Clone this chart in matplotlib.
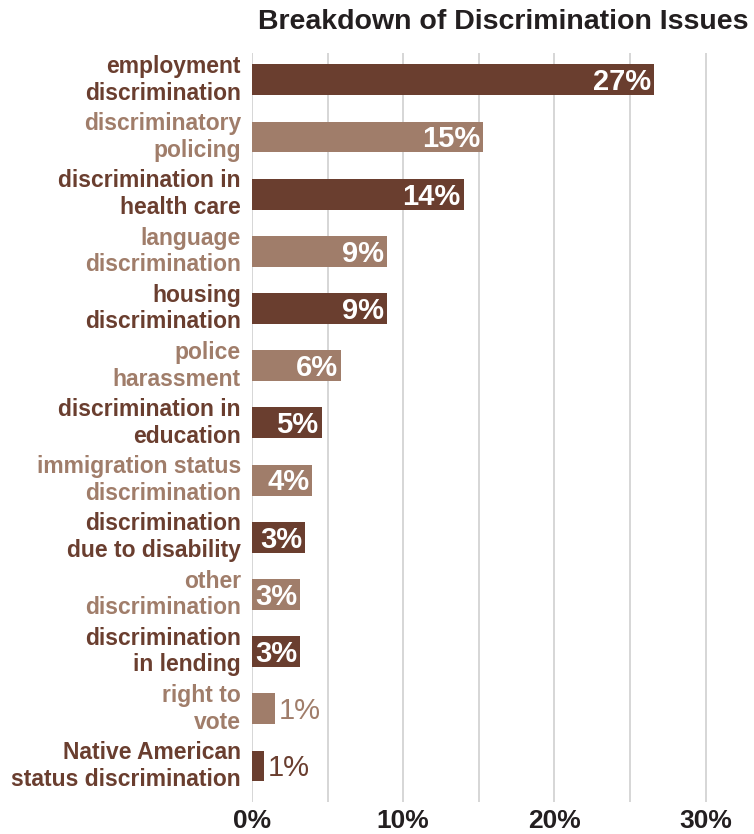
import matplotlib
matplotlib.use('Agg')
import matplotlib.pyplot as plt
import numpy as np

plt.rcParams['font.family'] = ['Liberation Sans', 'DejaVu Sans']

# Data
issues = ['employment\ndiscrimination', 'discriminatory\npolicing',
          'discrimination in\nhealth care', 'language\ndiscrimination',
          'housing\ndiscrimination', 'police\nharassment',
          'discrimination in\neducation', 'immigration status\ndiscrimination',
          'discrimination\ndue to disability', 'other\ndiscrimination',
          'discrimination\nin lending', 'right to\nvote',
          'Native American\nstatus discrimination']
values = [26.6, 15.3, 14.0, 8.9, 8.9, 5.9, 4.6, 4.0, 3.5, 3.2, 3.2, 1.5, 0.8]
labels = ['27%', '15%', '14%', '9%', '9%', '6%', '5%', '4%', '3%', '3%', '3%', '1%', '1%']

dark = '#6A3E2F'
light = '#A07D6A'
ink = '#231F20'
colors = [dark if i % 2 == 0 else light for i in range(len(issues))]

fig = plt.figure(figsize=(7.54, 8.34), dpi=100)
ax = fig.add_axes([252 / 754, 1 - 802 / 834, 1 - 252 / 754, (802 - 53) / 834])

y = np.arange(len(issues))
ax.set_xlim(0, 33.2)
ax.set_ylim(12.63, -0.47)

for xv in range(0, 35, 5):
    ax.axvline(xv, color='#CFCFCF', linewidth=1.2, zorder=0)

ax.barh(y, values, height=0.54, color=colors, zorder=2)

for i, (v, lab) in enumerate(zip(values, labels)):
    if v > 2.5:
        ax.text(v - 0.2, i + 0.04, lab, ha='right', va='center', color='white',
                fontsize=21, fontweight='bold', zorder=3)
    else:
        ax.text(v + 0.25, i + 0.04, lab, ha='left', va='center', color=colors[i],
                fontsize=21, zorder=3)

ax.set_yticks(y)
ax.set_yticklabels(issues, fontsize=16.5, fontweight='bold', linespacing=1.2,
                   va='center')
for tl, c in zip(ax.get_yticklabels(), colors):
    tl.set_color(c)

ax.set_xticks([0, 10, 20, 30])
ax.set_xticklabels(['0%', '10%', '20%', '30%'], fontsize=19, fontweight='bold',
                   color=ink)
ax.tick_params(axis='both', length=0)
ax.tick_params(axis='y', pad=8)
ax.tick_params(axis='x', pad=5)

for s in ax.spines.values():
    s.set_visible(False)

fig.text(748 / 754, 1 - 22 / 834, 'Breakdown of Discrimination Issues', ha='right',
         va='center', fontsize=20.5, fontweight='heavy', color=ink)

fig.savefig('out.png', dpi=100)
